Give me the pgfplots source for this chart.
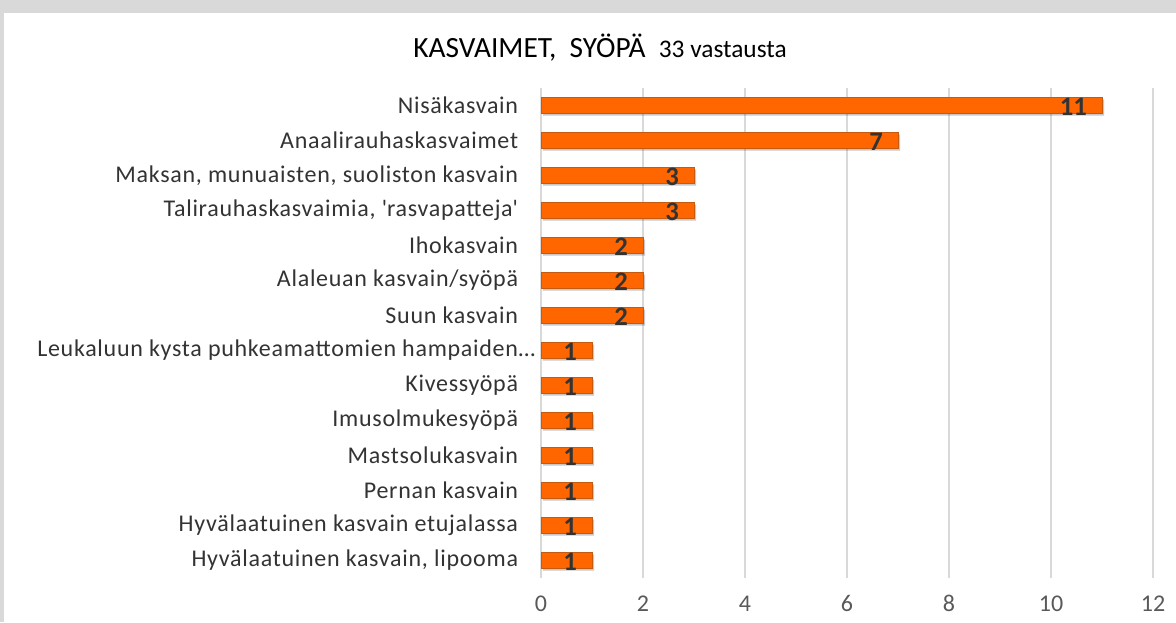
\documentclass[border=0pt]{standalone}
\usepackage{pgfplots}
\pgfplotsset{compat=1.18}
\usepackage{fontspec}
\setmainfont{Carlito}
\newfontfamily\labfont[LetterSpace=3]{Carlito}
\definecolor{bargfill}{HTML}{FF6600}
\definecolor{bargedge}{HTML}{C55A11}
\definecolor{gridc}{HTML}{D9D9D9}
\definecolor{ticklab}{HTML}{595959}
\definecolor{catlab}{HTML}{333333}
\definecolor{framegray}{HTML}{D9D9D9}
\begin{document}
\begin{tikzpicture}[x=0.75pt,y=0.75pt]
\useasboundingbox (0,0) rectangle (1176,622);
\fill[framegray] (0,0) rectangle (1176,622);
\fill[white] (4,0) rectangle (1176,609);
\node[anchor=base, inner sep=0pt, text=black] at (600,564)
  {\fontsize{22pt}{24pt}\selectfont KASVAIMET,\ \ SYÖPÄ\ \ {\fontsize{19pt}{20pt}\selectfont 33 vastausta}};
\begin{axis}[
  at={(405.75pt,33pt)}, anchor=south west,
  scale only axis,
  width=459pt, height=367.5pt,
  xmin=0, xmax=12,
  ymin=0.5, ymax=14.5,
  y dir=reverse,
  xbar, bar width=12pt,
  xtick={0,2,...,12},
  ytick={1,...,14},
  yticklabels={Nisäkasvain, Anaalirauhaskasvaimet, {Maksan, munuaisten, suoliston kasvain}, {Talirauhaskasvaimia, \textquotesingle rasvapatteja\textquotesingle}, {Ihokasvain\ }, {Alaleuan kasvain/syöpä}, {Suun kasvain\ }, {Leukaluun kysta puhkeamattomien hampaiden…\hspace*{-13pt}}, Kivessyöpä, Imusolmukesyöpä, Mastsolukasvain, {Pernan kasvain}, {Hyvälaatuinen kasvain etujalassa}, {Hyvälaatuinen kasvain, lipooma}},
  axis line style={draw=none},
  major tick length=0pt,
  xmajorgrids,
  major grid style={gridc, line width=1.1pt},
  /pgf/number format/assume math mode=true,
  xticklabel style={anchor=base, yshift=-25pt, text=ticklab, font=\fontsize{18pt}{20pt}\selectfont},
  yticklabel style={anchor=east, inner sep=0pt, xshift=-17pt, text=catlab, font=\labfont\fontsize{18pt}{20pt}\selectfont},
  nodes near coords,
  nodes near coords style={anchor=east, inner sep=0pt, xshift=-11pt, yshift=-1pt, text=catlab, font=\bfseries\fontsize{20pt}{22pt}\selectfont},
  clip=false,
]
\addplot[fill=bargfill, draw=bargedge, line width=0.6pt,
  preaction={fill=black, fill opacity=0.22, draw=none, transform canvas={xshift=1.5pt, yshift=-1.5pt}}] coordinates {
(11,1) (7,2) (3,3) (3,4) (2,5) (2,6) (2,7) (1,8) (1,9) (1,10) (1,11) (1,12) (1,13) (1,14)
};
\end{axis}
\end{tikzpicture}
\end{document}
